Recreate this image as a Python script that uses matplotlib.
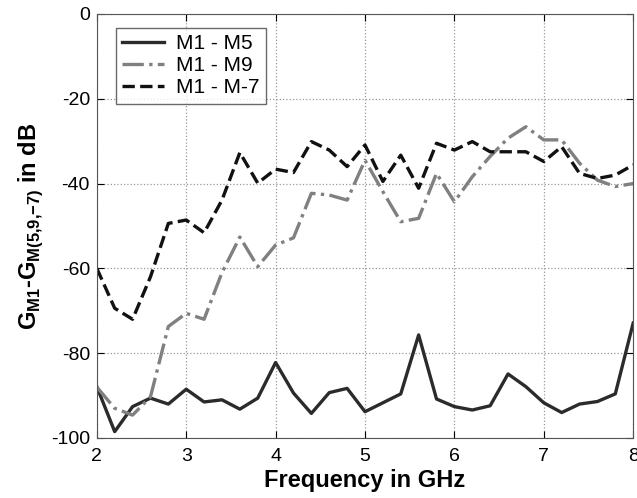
import numpy as np
import matplotlib
matplotlib.use('Agg')
import matplotlib.pyplot as plt

plt.rcParams['font.family'] = ['Liberation Sans', 'DejaVu Sans']
plt.rcParams['mathtext.fontset'] = 'custom'
plt.rcParams['mathtext.rm'] = 'Liberation Sans'
plt.rcParams['mathtext.bf'] = 'Liberation Sans:bold'
plt.rcParams['axes.unicode_minus'] = False

# frequency points (GHz)
freq = [2.0, 2.2, 2.4, 2.6, 2.8, 3.0, 3.2, 3.4, 3.6, 3.8, 4.0, 4.2, 4.4, 4.6, 4.8,
        5.0, 5.2, 5.4, 5.6, 5.8, 6.0, 6.2, 6.4, 6.6, 6.8, 7.0, 7.2, 7.4, 7.6, 7.8, 8.0]

m1_m5 = [-87.9, -98.5, -92.6, -90.6, -92.0, -88.5, -91.5, -91.0, -93.2, -90.6, -82.2,
         -89.4, -94.2, -89.3, -88.3, -93.8, -91.7, -89.6, -75.7, -90.8, -92.6, -93.4,
         -92.4, -84.9, -87.9, -91.7, -94.0, -92.0, -91.4, -89.6, -72.9]

m1_m9 = [-88.0, -93.0, -94.6, -90.3, -73.7, -70.6, -72.0, -61.0, -52.6, -59.6, -54.5,
         -52.8, -42.3, -42.7, -43.9, -34.5, -41.9, -49.0, -48.2, -37.6, -44.3, -38.4,
         -33.6, -29.3, -26.6, -29.7, -29.7, -35.2, -39.2, -40.7, -40.0]

m1_m7 = [-60.0, -69.4, -72.0, -62.0, -49.4, -48.6, -51.6, -43.9, -32.7, -39.9, -36.6,
         -37.4, -30.1, -32.1, -36.0, -30.9, -39.5, -33.3, -41.1, -30.5, -32.1, -30.1,
         -32.5, -32.5, -32.5, -34.8, -31.3, -37.6, -38.8, -38.0, -35.6]

fig = plt.figure(figsize=(6.37, 4.98), dpi=100)
ax = fig.add_axes([0.152, 0.1205, 0.842, 0.8515])

ax.plot(freq, m1_m5, color='#2b2b2b', linestyle='-', linewidth=2.4, label='M1 - M5')
ax.plot(freq, m1_m9, color='#808080', linestyle='-.', linewidth=2.4, label='M1 - M9')
ax.plot(freq, m1_m7, color='#111111', linestyle='--', linewidth=2.4, label='M1 - M-7')

ax.set_xlim(2, 8)
ax.set_ylim(-100, 0)
ax.set_xticks(np.arange(2, 9, 1))
ax.set_yticks(np.arange(-100, 1, 20))
ax.grid(True, linestyle=':', color='#999999', linewidth=0.9)
ax.tick_params(direction='in', top=True, right=True, labelsize=14, length=5)
ax.tick_params(axis='x', pad=7)
ax.tick_params(axis='y', pad=5)

ax.set_xlabel('Frequency in GHz', fontsize=17, fontweight='bold', labelpad=3)
ax.set_ylabel(r'G$_{\mathbf{M1}}$-G$_{\mathbf{M(5{,}9{,}{-}7)}}$ in dB', fontsize=17,
              fontweight='bold', labelpad=4)

for s in ax.spines.values():
    s.set_color('#555555')

leg = ax.legend(loc='upper left', fontsize=15, frameon=True, fancybox=False,
                edgecolor='#444444', handlelength=2.0, borderpad=0.3,
                labelspacing=0.15, handletextpad=0.6, borderaxespad=0,
                bbox_to_anchor=(0.035, 0.967))
leg.get_frame().set_linewidth(1.0)

plt.savefig('out.png', dpi=100)
